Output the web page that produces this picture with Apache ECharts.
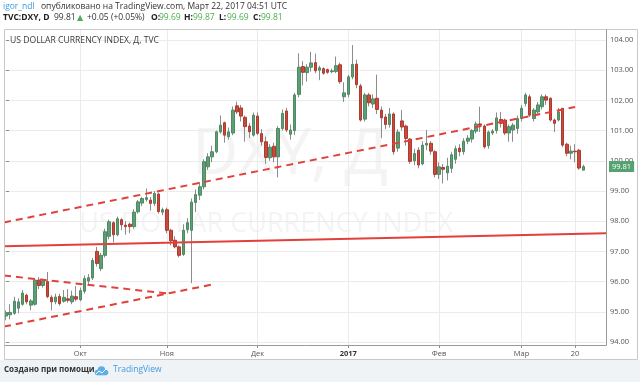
<!DOCTYPE html>
<html><head><meta charset="utf-8">
<script src="https://cdn.jsdelivr.net/npm/echarts@6/dist/echarts.min.js"></script>
<style>html,body{margin:0;padding:0;background:#fff}#c{width:640px;height:382px}</style>
</head><body><div id="c"></div>
<script>
// ---- data ----
const dates = [
'2016-09-07','2016-09-08','2016-09-09','2016-09-12','2016-09-13','2016-09-14','2016-09-15','2016-09-16','2016-09-19','2016-09-20',
'2016-09-21','2016-09-22','2016-09-23','2016-09-26','2016-09-27','2016-09-28','2016-09-29','2016-09-30','2016-10-03','2016-10-04',
'2016-10-05','2016-10-06','2016-10-07','2016-10-10','2016-10-11','2016-10-12','2016-10-13','2016-10-14','2016-10-17','2016-10-18',
'2016-10-19','2016-10-20','2016-10-21','2016-10-24','2016-10-25','2016-10-26','2016-10-27','2016-10-28','2016-10-31','2016-11-01',
'2016-11-02','2016-11-03','2016-11-04','2016-11-07','2016-11-08','2016-11-09','2016-11-10','2016-11-11','2016-11-14','2016-11-15',
'2016-11-16','2016-11-17','2016-11-18','2016-11-21','2016-11-22','2016-11-23','2016-11-24','2016-11-25','2016-11-28','2016-11-29',
'2016-11-30','2016-12-01','2016-12-02','2016-12-05','2016-12-06','2016-12-07','2016-12-08','2016-12-09','2016-12-12','2016-12-13',
'2016-12-14','2016-12-15','2016-12-16','2016-12-19','2016-12-20','2016-12-21','2016-12-22','2016-12-23','2016-12-26','2016-12-27',
'2016-12-28','2016-12-29','2016-12-30','2017-01-02','2017-01-03','2017-01-04','2017-01-05','2017-01-06','2017-01-09','2017-01-10',
'2017-01-11','2017-01-12','2017-01-13','2017-01-16','2017-01-17','2017-01-18','2017-01-19','2017-01-20','2017-01-23','2017-01-24',
'2017-01-25','2017-01-26','2017-01-27','2017-01-30','2017-01-31','2017-02-01','2017-02-02','2017-02-03','2017-02-06','2017-02-07',
'2017-02-08','2017-02-09','2017-02-10','2017-02-13','2017-02-14','2017-02-15','2017-02-16','2017-02-17','2017-02-20','2017-02-21',
'2017-02-22','2017-02-23','2017-02-24','2017-02-27','2017-02-28','2017-03-01','2017-03-02','2017-03-03','2017-03-06','2017-03-07',
'2017-03-08','2017-03-09','2017-03-10','2017-03-13','2017-03-14','2017-03-15','2017-03-16','2017-03-17','2017-03-20','2017-03-21',
'2017-03-22'];
const futureDates = ['2017-03-23','2017-03-24','2017-03-27','2017-03-28','2017-03-29'];

const opens = [
94.86,94.90,94.95,95.12,95.25,95.55,95.22,95.25,96.05,95.87,
96.00,95.48,95.33,95.51,95.35,95.43,95.33,95.50,95.40,95.68,
96.02,96.12,97.00,96.43,96.87,97.50,97.95,97.55,98.05,97.87,
97.90,97.82,98.31,98.60,98.72,98.70,98.59,98.90,98.30,98.38,
97.70,97.37,97.15,96.90,97.72,97.70,98.62,98.86,99.14,99.80,
100.13,100.30,100.96,101.26,100.80,100.92,101.82,101.75,101.44,101.15,
100.85,101.48,100.90,100.63,100.10,100.48,100.13,101.07,101.65,100.88,
101.00,102.20,103.12,102.92,103.10,103.25,103.00,103.05,103.02,102.95,
102.96,103.18,102.12,102.20,102.78,103.20,102.48,101.38,102.18,101.88,
102.07,101.68,101.45,101.20,101.55,100.42,101.32,101.15,100.72,100.00,
100.35,99.90,100.52,100.58,100.30,99.55,99.78,99.60,99.75,100.05,
100.42,100.30,100.65,100.72,100.98,101.22,101.15,100.50,100.92,101.00,
101.37,101.35,100.92,101.02,101.07,101.40,101.90,102.12,101.40,101.62,
101.79,102.12,102.07,101.35,101.35,101.74,100.55,100.25,100.32,100.35,
99.69];
const closes = [
94.96,94.98,95.35,95.33,95.62,95.33,95.36,96.05,95.87,96.02,
95.50,95.33,95.49,95.27,95.48,95.38,95.52,95.42,95.70,96.10,
96.13,96.70,96.60,96.87,97.65,97.98,97.55,98.08,97.88,97.82,
97.82,98.30,98.64,98.75,98.78,98.59,98.92,98.32,98.38,97.70,
97.35,97.15,96.87,97.70,97.95,98.63,98.88,99.14,99.97,100.13,
100.30,100.96,101.18,100.85,100.96,101.68,101.62,101.48,101.13,100.96,
101.51,100.91,100.63,100.11,100.45,100.13,101.07,101.57,101.02,101.02,
102.18,103.10,102.93,103.10,103.24,102.98,103.08,102.90,102.93,102.98,
103.15,102.62,102.25,102.78,103.19,102.52,101.35,102.18,101.92,102.05,
101.70,101.42,101.20,101.55,100.30,100.95,101.12,100.74,99.98,100.24,
99.86,100.52,100.58,100.32,99.55,99.80,99.72,99.82,100.20,100.40,
100.30,100.65,100.75,101.00,101.22,101.18,100.46,100.95,100.98,101.42,
101.24,100.92,101.13,101.18,101.40,101.74,102.18,101.51,101.68,101.85,
102.12,102.01,101.35,101.24,101.62,100.52,100.25,100.32,100.30,99.76,
99.81];
const highs = [
95.05,95.25,95.50,95.45,95.72,95.60,95.42,96.10,96.15,96.10,
96.32,95.55,95.60,95.60,95.72,95.75,95.70,95.85,95.80,96.20,
96.25,96.78,97.15,96.95,97.75,98.05,98.00,98.15,98.10,98.00,
97.95,98.40,98.70,98.80,99.08,98.80,99.00,98.95,98.45,98.45,
97.75,97.50,97.20,97.90,98.10,98.75,99.05,99.30,100.05,100.25,
100.50,101.00,101.50,101.30,101.10,101.80,101.96,101.85,101.50,101.25,
101.60,101.60,101.05,100.80,100.55,100.60,101.15,101.70,101.75,101.20,
102.25,103.56,103.30,103.20,103.61,103.55,103.15,103.10,103.05,103.05,
103.45,103.25,102.60,102.85,103.83,103.35,102.55,102.25,102.25,102.20,
102.85,101.80,101.55,101.75,101.60,101.05,101.68,101.20,100.75,100.40,
100.45,100.65,101.02,100.65,100.35,99.95,99.90,100.10,100.30,100.50,
100.55,100.75,100.85,101.05,101.30,101.79,101.20,101.00,101.05,101.60,
101.62,101.40,101.20,101.25,101.50,101.85,102.25,102.20,101.75,101.95,
102.20,102.20,102.10,101.40,101.75,101.75,100.60,100.50,100.55,100.40,
99.87];
const lows = [
94.72,94.75,94.90,94.95,95.20,95.25,95.05,95.20,95.75,95.80,
95.45,95.05,95.25,95.20,95.30,95.30,95.25,95.35,95.35,95.60,
95.90,96.05,96.50,96.35,96.80,97.40,97.30,97.50,97.70,97.55,
97.60,97.75,98.25,98.50,98.65,98.35,98.50,98.25,98.20,97.60,
97.20,97.10,96.80,96.85,97.60,95.95,98.30,98.70,99.05,99.70,
99.95,100.25,100.90,100.60,100.70,100.85,101.55,101.30,100.63,100.75,
100.80,100.85,100.50,99.90,100.00,99.95,99.45,101.00,100.95,100.70,
100.85,102.10,102.50,102.62,102.95,102.90,102.67,102.85,102.88,102.90,
102.90,102.55,101.95,102.10,102.70,102.40,101.30,101.30,101.80,101.75,
101.55,100.75,101.05,101.10,100.20,100.30,101.00,100.50,99.90,99.85,
99.75,99.85,100.35,100.20,99.45,99.40,99.25,99.35,99.60,99.90,
100.15,100.20,100.55,100.60,100.90,100.95,100.40,100.40,100.85,100.90,
101.10,100.85,100.63,100.63,100.90,101.30,101.80,101.45,101.30,101.50,
101.70,101.85,101.30,100.95,101.30,100.45,100.15,100.05,99.95,99.70,
99.69];

// x-axis tick labels (category -> label)
const dateTickLabels = {
  '2016-10-03':'Окт','2016-11-01':'Ноя','2016-12-01':'Дек','2017-01-02':'2017',
  '2017-02-01':'Фев','2017-03-01':'Мар','2017-03-20':'20'
};
const boldTickLabels = ['2017'];

// price axis
const priceMin = 94, priceMax = 104, priceStep = 1;

// drawn trend lines: [bar index, price] end points
const solidLine      = [[-0.5, 97.17], [145.5, 97.60]];
const upperDashed    = [[-0.5, 97.96], [138.0, 101.78]];
const lowerDashed    = [[-0.5, 94.51], [50.2, 95.91]];
const fallingDashed  = [[-0.5, 96.20], [39.0, 95.61]];

// ---- chart ----
const categories = dates.concat(futureDates);
const N = categories.length;
const last = dates.length - 1;
const wickData = dates.map((d,i)=>[opens[i], closes[i], lows[i], highs[i]]);
const bodyData = dates.map((d,i)=>[opens[i], closes[i], Math.min(opens[i],closes[i]), Math.max(opens[i],closes[i])]);
const isTick = (idx, val) => dateTickLabels[val] != null;

const FONT = 'Open Sans';
const RED = '#e2403a';
const GREEN_TXT = '#4caf50';

const chg = closes[last] - closes[last-1];
const chgPct = chg / closes[last-1] * 100;
const sign = v => (v >= 0 ? '+' : '');

const chart = echarts.init(document.getElementById('c'), null, {renderer:'canvas'});

function txt(x, y, text, opt) {
  opt = opt || {};
  return {
    type:'text', z: opt.z || 50, silent:true,
    style:{
      text:text, x:x, y:y,
      fill: opt.fill || '#333',
      fontSize: opt.size || 8.5,
      fontFamily: opt.family || FONT,
      fontWeight: opt.weight || 'normal',
      align: opt.align || 'left', textAlign: opt.align || 'left',
      verticalAlign:'middle', textVerticalAlign:'middle'
    }
  };
}

const graphics = [
  {type:'rect', z:-30, silent:true, shape:{x:0,y:360,width:640,height:22}, style:{fill:'#f0f3f6'}},
  {type:'rect', z:40, silent:true, shape:{x:4.5,y:29.5,width:633,height:330}, style:{fill:null, stroke:'#c9c9c9', lineWidth:1}},
  {type:'line', z:40, silent:true, shape:{x1:606.5,y1:29.5,x2:606.5,y2:345.5}, style:{stroke:'#9a9a9a', lineWidth:1}},
  {type:'line', z:40, silent:true, shape:{x1:4.5,y1:345.5,x2:606.5,y2:345.5}, style:{stroke:'#9a9a9a', lineWidth:1}},
  // watermark
  txt(290, 156, 'DXY, Д', {size:64, fill:'#f4f4f4', align:'center', z:-5}),
  txt(266, 224, 'US DOLLAR CURRENCY INDEX', {size:27, fill:'#f4f4f4', align:'center', z:-5}),
  // pane title
  txt(10, 41, 'US DOLLAR CURRENCY INDEX, Д, TVC', {size:8.6, fill:'#3a3a3a'}),
  // header line 1
  txt(3, 7, 'igor_ndl', {fill:'#3d9be0', size:8.5}),
  txt(41, 7, 'опубликовано на TradingView.com, Март 22, 2017 04:51 UTC', {fill:'#333', size:8.5}),
  // header line 2
  txt(3, 18, 'TVC:DXY, D', {weight:'bold', size:8.5, fill:'#222'}),
  txt(54, 18, closes[last].toFixed(2), {size:8.5, fill:'#333'}),
  txt(77, 18, '▲', {size:8, fill:GREEN_TXT, family:'DejaVu Sans'}),
  txt(87, 18, sign(chg)+chg.toFixed(2)+' ('+sign(chgPct)+chgPct.toFixed(2)+'%)', {size:8.5, fill:'#333'}),
  txt(151, 18, 'O:', {weight:'bold', size:8.5, fill:'#222'}),
  txt(159, 18, opens[last].toFixed(2), {size:8.5, fill:GREEN_TXT}),
  txt(184, 18, 'H:', {weight:'bold', size:8.5, fill:'#222'}),
  txt(193, 18, highs[last].toFixed(2), {size:8.5, fill:GREEN_TXT}),
  txt(219, 18, 'L:', {weight:'bold', size:8.5, fill:'#222'}),
  txt(227, 18, lows[last].toFixed(2), {size:8.5, fill:GREEN_TXT}),
  txt(253, 18, 'C:', {weight:'bold', size:8.5, fill:'#222'}),
  txt(261, 18, closes[last].toFixed(2), {size:8.5, fill:GREEN_TXT}),
  // footer
  txt(4, 370, 'Создано при помощи', {weight:'bold', size:8, fill:'#333'}),
  {type:'circle', z:50, silent:true, shape:{cx:97.5, cy:372.5, r:2.8}, style:{fill:'#5db0e6'}},
  {type:'circle', z:50, silent:true, shape:{cx:101.5, cy:370, r:3.8}, style:{fill:'#5db0e6'}},
  {type:'circle', z:50, silent:true, shape:{cx:105.5, cy:372.5, r:2.8}, style:{fill:'#5db0e6'}},
  {type:'rect', z:50, silent:true, shape:{x:97.5, y:371, width:8, height:4.3}, style:{fill:'#5db0e6'}},
  {type:'polyline', z:51, silent:true, shape:{points:[[96,374],[99,371],[102,373],[106,369]]}, style:{stroke:'#ffffff', lineWidth:1, fill:null}},
  txt(113, 370, 'TradingView', {size:8.5, fill:'#3d9be0'})
];

const lineSeries = (pts, dashed) => ({
  type:'line', xAxisIndex:2, yAxisIndex:1, data:pts, symbol:'none', silent:true,
  animation:false, z:4,
  lineStyle:{color:RED, width:2, type: dashed ? [7,5] : 'solid'}
});

chart.setOption({
  animation:false,
  backgroundColor:'#ffffff',
  grid:[
    {left:4, right:34, top:29, bottom:37},
    {left:4, right:34, top:40, bottom:40}
  ],
  xAxis:[
    {gridIndex:0, type:'category', data:categories, boundaryGap:true,
     axisLine:{show:false},
     axisTick:{show:true, interval:isTick, alignWithLabel:true, length:3, lineStyle:{color:'#8a8a8a'}},
     axisLabel:{interval:isTick, margin:5, fontSize:7.5, color:'#555', fontFamily:FONT,
       formatter:v => { const l = dateTickLabels[v]; if (l == null) return ''; return boldTickLabels.indexOf(l) >= 0 ? '{b|'+l+'}' : l; },
       rich:{b:{fontWeight:'bold', fontSize:7.5, color:'#333', fontFamily:FONT}}},
     splitLine:{show:true, interval:isTick, alignWithLabel:true, lineStyle:{color:'#ebebeb', width:1}}},
    {gridIndex:1, type:'category', data:categories, boundaryGap:true, show:false},
    {gridIndex:1, type:'value', min:-0.5, max:N-0.5, show:false}
  ],
  yAxis:[
    {gridIndex:0, type:'value', show:false, min:0, max:1, splitLine:{show:false}},
    {gridIndex:1, type:'value', position:'right', min:priceMin, max:priceMax, interval:priceStep,
     axisLine:{show:false},
     axisTick:{show:true, length:3, lineStyle:{color:'#8a8a8a'}},
     axisLabel:{formatter:v => v.toFixed(2), fontSize:7.5, color:'#555', margin:4, fontFamily:FONT},
     splitLine:{show:true, lineStyle:{color:'#ebebeb', width:1}}}
  ],
  series:[
    {type:'candlestick', xAxisIndex:1, yAxisIndex:1, data:wickData, barWidth:1, silent:true, z:2,
     itemStyle:{color:'#8c8c8c', color0:'#8c8c8c', borderColor:'#8c8c8c', borderColor0:'#8c8c8c', borderWidth:1}},
    {type:'candlestick', xAxisIndex:1, yAxisIndex:1, data:bodyData, barWidth:3, silent:true, z:3,
     itemStyle:{color:'#5d9e74', color0:'#c9493c', borderColor:'#4e8a63', borderColor0:'#ad3b30', borderWidth:1},
     markLine:{silent:true, symbol:['none','none'], animation:false,
       data:[{yAxis:closes[last]}],
       lineStyle:{width:0, color:'rgba(0,0,0,0)'},
       label:{show:true, position:'end', distance:3, formatter:() => closes[last].toFixed(2),
         backgroundColor:'#53a26f', color:'#ffffff', fontSize:7.5, fontFamily:FONT, padding:[2,3,1,3]}}},
    lineSeries(solidLine, false),
    lineSeries(upperDashed, true),
    lineSeries(lowerDashed, true),
    lineSeries(fallingDashed, true)
  ],
  graphic:graphics
});
</script>
</body></html>
